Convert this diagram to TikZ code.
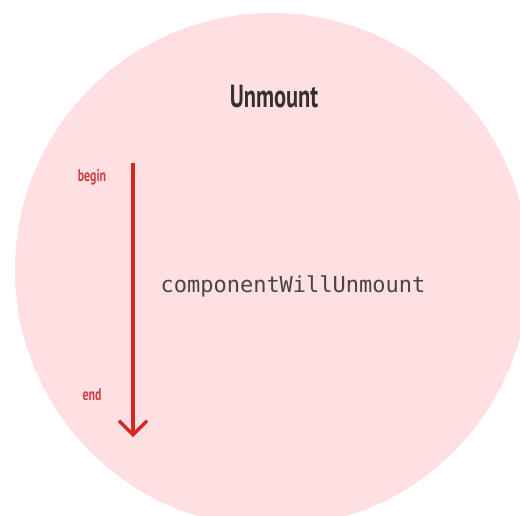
\documentclass[tikz,border=0pt]{standalone}
\usepackage{fontspec}
\setmonofont{DejaVu Sans Mono}
\newfontfamily\condfont[FakeStretch=0.7]{PT Sans}
\usetikzlibrary{arrows.meta,positioning}
\definecolor{pink}{RGB}{254,224,227}
\definecolor{red}{RGB}{214,40,32}
\definecolor{labelred}{RGB}{208,62,62}
\definecolor{ink}{RGB}{52,47,48}

\begin{document}
\begin{tikzpicture}[x=1pt,y=-1pt]
    \clip (0,0) rectangle (520,515);
    \fill[white] (0,0) rectangle (520,515);
    \fill[pink] (272,270) circle (257);
    \node[font=\condfont\bfseries\fontsize{32}{36}\selectfont,ink] (title) at (274,97){Unmount};
    \coordinate (top) at (133,163);
    \coordinate (bottom) at (133,437);
    \draw[red,line width=3.2pt,-{Straight Barb[length=14pt,width=28pt,line width=3.2pt]}] (top)--(bottom);
    \node[font=\condfont\bfseries\fontsize{17}{20}\selectfont,labelred] (begin) at (92,177){begin};
    \node[font=\condfont\bfseries\fontsize{17}{20}\selectfont,labelred] (end) at (92,395){end};
    \node[font=\ttfamily\fontsize{22}{26}\selectfont,ink!90] (hook) at (293,286){componentWillUnmount};
  \end{tikzpicture}
\end{document}
